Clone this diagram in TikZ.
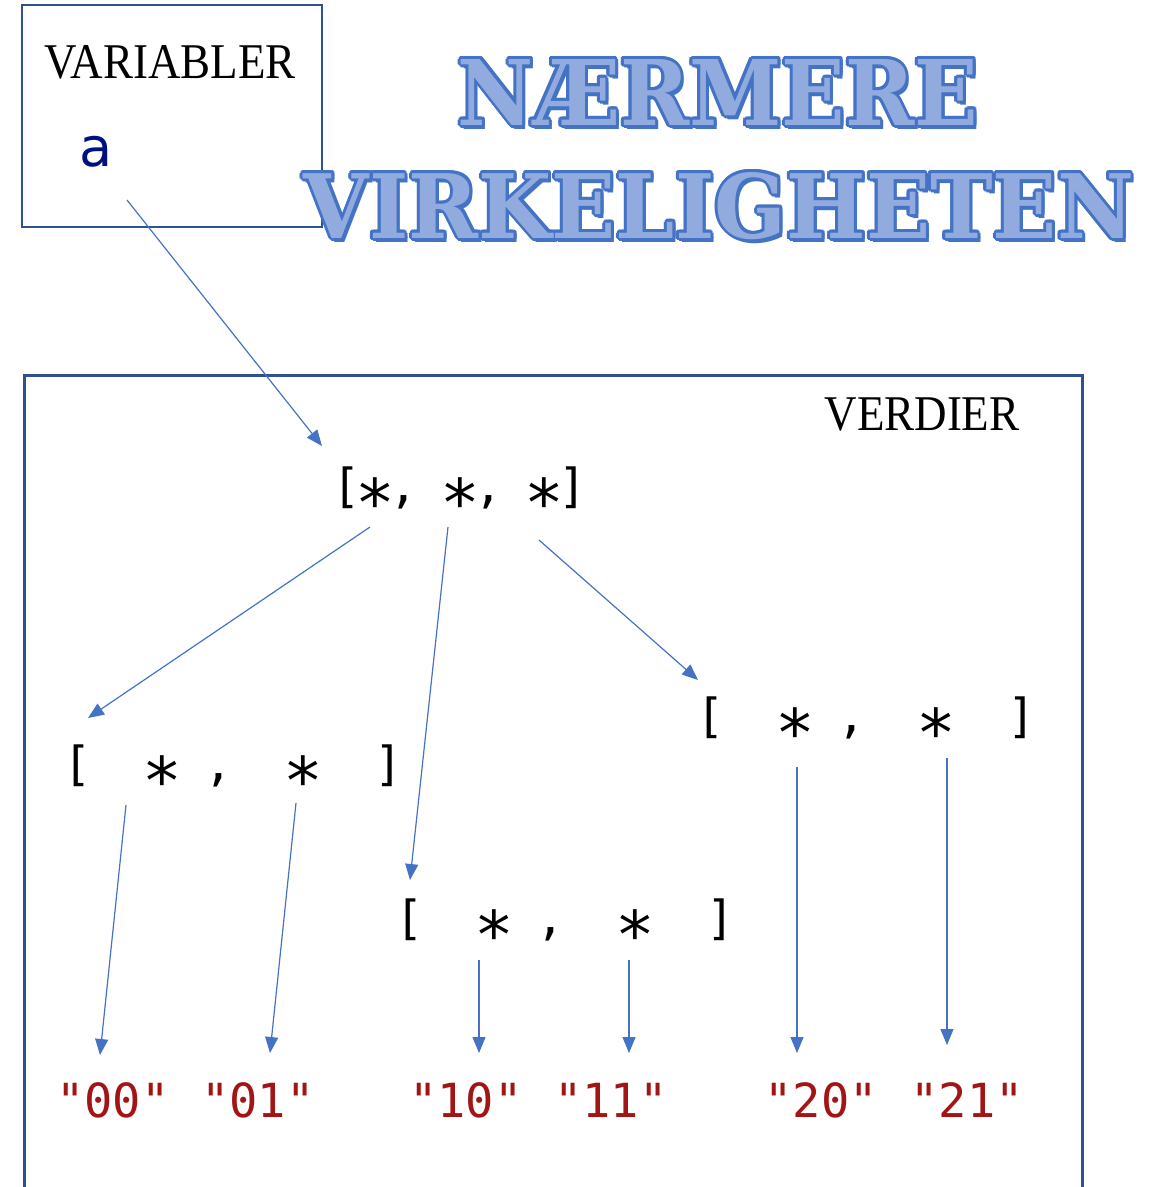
\documentclass[tikz,border=0pt]{standalone}
\usepackage{fontspec}
\usepackage{graphicx}
\usetikzlibrary{positioning, arrows.meta, calc}
\newfontfamily\lblfont{Liberation Serif}[FakeStretch=0.9]
\newfontfamily\codefont{DejaVu Sans Mono}
\newfontfamily\varfont{DejaVu Sans}
\newfontfamily\titlefont{DejaVu Serif}
\definecolor{boxblue}{RGB}{47,82,143}
\definecolor{arrblue}{RGB}{68,114,196}
\definecolor{varblue}{RGB}{0,16,128}
\definecolor{strred}{RGB}{163,21,21}
\definecolor{titlefill}{RGB}{145,171,222}
\newcommand\cstar{\makebox[0.6em]{\raisebox{-0.52em}{\scalebox{1.4}{*}}}}
\tikzstyle{boxframe}=[%
      rectangle, draw=boxblue, line width=2.5pt, fill=none, inner sep=0pt
]
\tikzstyle{lbl}=[%
      font=\lblfont\fontsize{50}{60}\selectfont, inner sep=0pt, anchor=base
]
\tikzstyle{code}=[%
      font=\codefont\fontsize{47}{56}\selectfont, inner sep=0pt, anchor=base
]
\tikzstyle{strval}=[code, text=strred]
\tikzstyle{var}=[%
      font=\varfont\fontsize{54}{60}\selectfont, text=varblue, inner sep=0pt, anchor=base
]
\tikzstyle{ttl}=[font=\titlefont\bfseries, inner sep=0pt, anchor=base]
\tikzstyle{link}=[draw=arrblue, line width=1.2pt]
\begin{document}
\begin{tikzpicture}[x=1pt, y=-1pt,
    -{Triangle[length=16pt,width=13pt]}
  ]
    \useasboundingbox (0,0) rectangle (1166,1187);
    \node[boxframe, minimum width=300pt, minimum height=222pt] (varbox) at (172,116) {};
    \node[boxframe, minimum width=1058pt, minimum height=850pt, anchor=north west] (valbox) at (23,374) {};
    \node[lbl] (varlbl) at (170,78)  {VARIABLER};
    \node[lbl] (vallbl) at (922,430) {VERDIER};
    \node[var] (a) at (96,166) {a};

    % title with outline
    \foreach \txt/\w/\x/\y/\nm in {NÆRMERE/520/718/125/ttlA, VIRKELIGHETEN/830/719/238/ttlB} {
      \node[ttl, text=arrblue] at (\x+3,\y+4) {\resizebox{\w pt}{66pt}{\txt}};
      \foreach \ang in {0,30,...,330}
        \node[ttl, text=arrblue] at ($(\x,\y)+(\ang:3)$) {\resizebox{\w pt}{66pt}{\txt}};
      \node[ttl, text=titlefill] (\nm) at (\x,\y) {\resizebox{\w pt}{66pt}{\txt}};
    }

    \node[code] (top) at (460,502) {[\cstar,~\cstar,~\cstar]};
    \node[code] (lft) at (233,780) {[~~\cstar~,~~\cstar~~]};
    \node[code] (mid) at (565,934) {[~~\cstar~,~~\cstar~~]};
    \node[code] (rgt) at (866,732) {[~~\cstar~,~~\cstar~~]};

    \node[strval] (s00) at (113,1117) {"00"};
    \node[strval] (s01) at (258,1117) {"01"};
    \node[strval] (s10) at (466,1117) {"10"};
    \node[strval] (s11) at (611,1117) {"11"};
    \node[strval] (s20) at (821,1117) {"20"};
    \node[strval] (s21) at (967,1117) {"21"};

    \path ([shift={(31,34)}]a.base)    edge[link] ([shift={(-138,-56)}]top.base)
          ([shift={(-90,25)}]top.base) edge[link] ([shift={(-145,-62)}]lft.base)
          ([shift={(-12,25)}]top.base) edge[link] ([shift={(-155,-54)}]mid.base)
          ([shift={(79,38)}]top.base)  edge[link] ([shift={(-168,-52)}]rgt.base)
          ([shift={(-107,25)}]lft.base) edge[link] ([shift={(-13,-62)}]s00.base)
          ([shift={(63,23)}]lft.base)  edge[link] ([shift={(12,-64)}]s01.base)
          ([shift={(-86,26)}]mid.base) edge[link] ([shift={(13,-64)}]s10.base)
          ([shift={(64,26)}]mid.base)  edge[link] ([shift={(18,-64)}]s11.base)
          ([shift={(-69,35)}]rgt.base) edge[link] ([shift={(-24,-64)}]s20.base)
          ([shift={(81,26)}]rgt.base)  edge[link] ([shift={(-20,-72)}]s21.base)
    ;
\end{tikzpicture}
\end{document}
